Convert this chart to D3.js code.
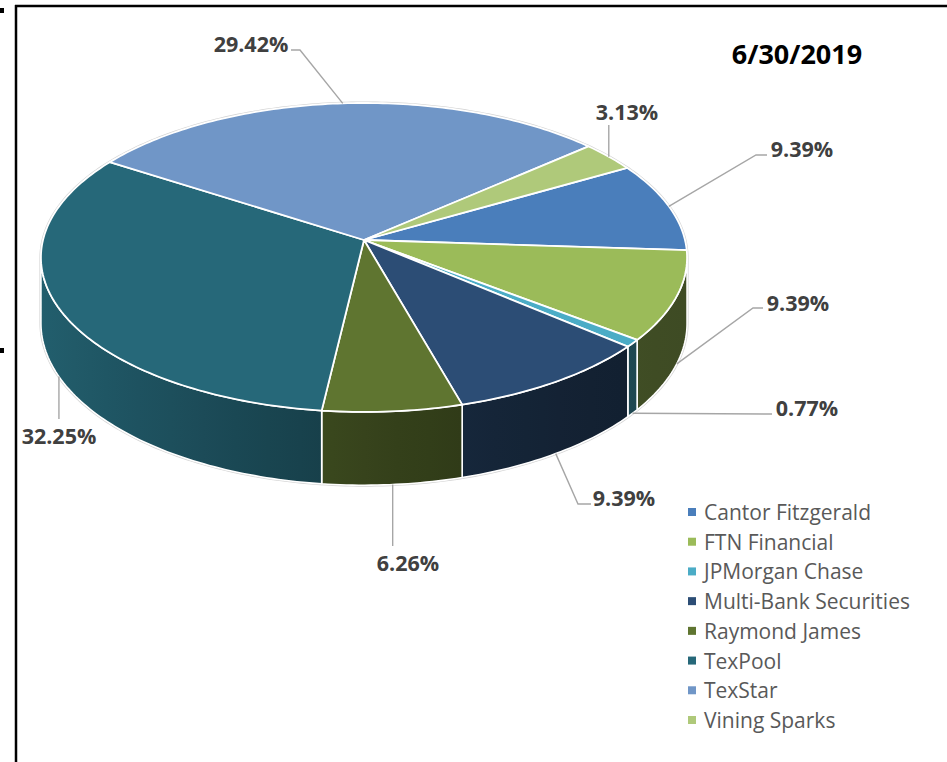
<!DOCTYPE html>
<html>
<head>
<meta charset="utf-8">
<script src="https://cdn.jsdelivr.net/npm/d3@7"></script>
<style>
  body { margin: 0; background: #fff; }
  svg { display: block; }
</style>
</head>
<body>
<div id="pie-viz"></div>
<script>
const W = 947, H = 762;

// data
const brokers = ["Cantor Fitzgerald", "FTN Financial", "JPMorgan Chase", "Multi-Bank Securities",
                 "Raymond James", "TexPool", "TexStar", "Vining Sparks"];
const shares = [9.39, 9.39, 0.77, 9.39, 6.26, 32.25, 29.42, 3.13];
const shareLabels = ["9.39%", "9.39%", "0.77%", "9.39%", "6.26%", "32.25%", "29.42%", "3.13%"];
const colors = ["#4a7ebb", "#9bbb59", "#4bacc6", "#2c4d75", "#5f7530", "#266879", "#7096c7", "#afc97a"];
const title = "6/30/2019";

// where Excel put the data labels: text centre and the leader bend points next to the label
const labelLayout = [
  { x: 802, y: 148, bend: [[767, 155], [756, 155]] },
  { x: 798, y: 302, bend: [[763, 308], [753, 308]] },
  { x: 807, y: 407, bend: [[772, 414]] },
  { x: 624, y: 497, bend: [[591, 504], [578, 504]] },
  { x: 408, y: 562, bend: [[null, 546]] },
  { x: 59,  y: 435, bend: [[null, 419]] },
  { x: 251, y: 43,  bend: [[291, 50], [300, 50]] },
  { x: 627, y: 111, bend: [[null, 125]] }
];

// 3d pie geometry (top face centre, radii, tilt perspective, thickness)
const cx = 364, cy = 240, RX = 321, RY = 152.5, K = 0.113, DEPTH = 65;

function proj(a, drop) {
  const v = -Math.cos(a);
  const s = 1 / (1 - K * v);
  return [cx + RX * Math.sin(a) * s, cy + RY * v * s + (drop || 0) * s];
}

// visible part of the outer wall: where the outline is at its widest
const wallFrom = Math.acos(-K), wallTo = 2 * Math.PI - Math.acos(-K);

function arcPoints(a0, a1, drop) {
  const n = Math.max(2, Math.ceil(Math.abs(a1 - a0) / (Math.PI / 180)));
  const pts = [];
  for (let i = 0; i <= n; i++) pts.push(proj(a0 + (a1 - a0) * i / n, drop));
  return pts;
}

const line = d3.line();

const svg = d3.select("#pie-viz")
  .append("svg")
  .attr("width", W)
  .attr("height", H);

const defs = svg.append("defs");

// frame of the document the chart sits in
svg.append("line").attr("x1", 16).attr("y1", 5).attr("x2", 16).attr("y2", H)
  .attr("stroke", "#000").attr("stroke-width", 2.5);
svg.append("line").attr("x1", 15).attr("y1", 6).attr("x2", W).attr("y2", 6)
  .attr("stroke", "#000").attr("stroke-width", 2.5);
svg.append("rect").attr("x", 0).attr("y", 8).attr("width", 4).attr("height", 5).attr("fill", "#000");
svg.append("rect").attr("x", 0).attr("y", 348).attr("width", 4).attr("height", 5).attr("fill", "#000");

const pie = d3.pie()
  .sort(null)
  .startAngle(60 * Math.PI / 180)
  .endAngle(60 * Math.PI / 180 + 2 * Math.PI);

const slices = pie(shares);

// faint grey outline round the whole disc
const outline = arcPoints(wallTo - 2 * Math.PI, wallFrom, 0)
  .concat(arcPoints(wallFrom, wallTo, DEPTH));
svg.append("path")
  .attr("d", line(outline) + "Z")
  .attr("fill", "none")
  .attr("stroke", "#d4d4d4")
  .attr("stroke-width", 3);

// side shading gets darker to the right
const shade = x => 0.4 + 0.5 * Math.pow(Math.max(0, (688 - x) / 646), 1.5);

slices.forEach((d, i) => {
  const g = defs.append("linearGradient")
    .attr("id", "side" + i)
    .attr("gradientUnits", "userSpaceOnUse")
    .attr("x1", 42).attr("x2", 688).attr("y1", 0).attr("y2", 0);
  const base = d3.rgb(colors[i]);
  d3.range(0, 1.0001, 0.05).forEach(t => {
    const f = shade(42 + t * 646);
    g.append("stop")
      .attr("offset", t)
      .attr("stop-color", d3.rgb(base.r * f, base.g * f, base.b * f).formatHex());
  });
});

// side walls
const sides = svg.append("g");
slices.forEach((d, i) => {
  // bring angles into 0..2pi for comparison with the visible wall range
  let a0 = d.startAngle % (2 * Math.PI), a1 = a0 + (d.endAngle - d.startAngle);
  const lo = Math.max(a0, wallFrom), hi = Math.min(a1, wallTo);
  if (hi <= lo) return;
  const pts = arcPoints(lo, hi, 0).concat(arcPoints(hi, lo, DEPTH));
  sides.append("path")
    .attr("d", line(pts) + "Z")
    .attr("fill", `url(#side${i})`)
    .attr("stroke", "#fff")
    .attr("stroke-width", 1.6)
    .attr("stroke-linejoin", "round");
});

// top faces
const tops = svg.append("g");
slices.forEach((d, i) => {
  const pts = [[cx, cy]].concat(arcPoints(d.startAngle, d.endAngle, 0));
  tops.append("path")
    .attr("d", line(pts) + "Z")
    .attr("fill", colors[i])
    .attr("stroke", "#fff")
    .attr("stroke-width", 1.8)
    .attr("stroke-linejoin", "round");
});

// data labels with leader lines
const labels = svg.append("g");
slices.forEach((d, i) => {
  const mid = (d.startAngle + d.endAngle) / 2;
  const a = mid % (2 * Math.PI);
  const front = a > wallFrom && a < wallTo;
  const anchor = proj(mid, front ? DEPTH : 0);
  const lay = labelLayout[i];
  const pts = lay.bend.map(p => [p[0] === null ? anchor[0] : p[0], p[1]]);
  pts.push(anchor);
  labels.append("path")
    .attr("d", line(pts))
    .attr("fill", "none")
    .attr("stroke", "#a6a6a6")
    .attr("stroke-width", 1.4);
  labels.append("text")
    .attr("x", lay.x)
    .attr("y", lay.y)
    .attr("text-anchor", "middle")
    .attr("dominant-baseline", "central")
    .attr("font-family", "'Open Sans', sans-serif")
    .attr("font-weight", "bold")
    .attr("font-size", 21.5)
    .attr("fill", "#404040")
    .text(shareLabels[i]);
});

// title
svg.append("text")
  .attr("x", 797)
  .attr("y", 53)
  .attr("text-anchor", "middle")
  .attr("dominant-baseline", "central")
  .attr("font-family", "'Open Sans', sans-serif")
  .attr("font-weight", "bold")
  .attr("font-size", 27)
  .attr("fill", "#000")
  .text(title);

// legend
const legendY = d3.scalePoint().domain(brokers).range([512, 720]);
const legend = svg.append("g");
brokers.forEach((b, i) => {
  legend.append("rect")
    .attr("x", 688)
    .attr("y", legendY(b) - 4)
    .attr("width", 8)
    .attr("height", 8)
    .attr("fill", colors[i]);
  legend.append("text")
    .attr("x", 704)
    .attr("y", legendY(b))
    .attr("dominant-baseline", "central")
    .attr("font-family", "'Open Sans', sans-serif")
    .attr("font-size", 21)
    .attr("fill", "#595959")
    .text(b);
});
</script>
</body>
</html>
